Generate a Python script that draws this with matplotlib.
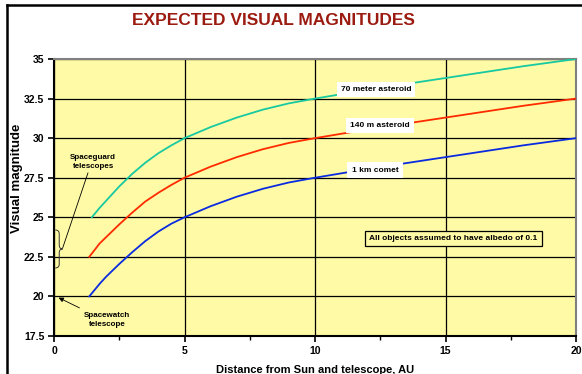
import matplotlib.pyplot as plt
from matplotlib.lines import Line2D
from matplotlib.patches import PathPatch
from matplotlib.path import Path
from matplotlib.ticker import MultipleLocator

plt.rcParams['font.family'] = ['Liberation Sans', 'DejaVu Sans']

# distance (AU) and visual magnitude
dist_70m = [1.45, 1.75, 2, 2.5, 3, 3.5, 4, 4.5, 5, 6, 7, 8, 9, 10, 12, 14, 16, 18, 20]
mag_70m = [25.0, 25.6, 26.05, 26.95, 27.75, 28.45, 29.05, 29.55, 30.0, 30.7, 31.3, 31.8,
           32.2, 32.5, 33.05, 33.55, 34.05, 34.55, 35.0]

dist_140m = [1.35, 1.75, 2, 2.5, 3, 3.5, 4, 4.5, 5, 6, 7, 8, 9, 10, 12, 14, 16, 18, 20]
mag_140m = [22.5, 23.35, 23.75, 24.55, 25.3, 26.0, 26.55, 27.05, 27.5, 28.2, 28.8, 29.3,
            29.7, 30.0, 30.55, 31.05, 31.55, 32.05, 32.5]

dist_1km = [1.35, 1.75, 2, 2.5, 3, 3.5, 4, 4.5, 5, 6, 7, 8, 9, 10, 12, 14, 16, 18, 20]
mag_1km = [20.0, 20.8, 21.25, 22.05, 22.8, 23.5, 24.1, 24.6, 25.0, 25.7, 26.3, 26.8,
           27.2, 27.5, 28.05, 28.55, 29.05, 29.55, 30.0]

y_ticks = [17.5, 20, 22.5, 25, 27.5, 30, 32.5, 35]
y_labels = ['17.5', '20', '22.5', '25', '27.5', '30', '32.5', '35']
x_ticks = [0, 5, 10, 15, 20]

fig = plt.figure(figsize=(5.82, 3.74), dpi=100)
ax = fig.add_axes([0.0928, 0.1016, 0.8969, 0.7406])
ax.set_facecolor('#FFFAA6')

ax.plot(dist_70m, mag_70m, color='#17C9A0', lw=1.3, zorder=3)
ax.plot(dist_140m, mag_140m, color='#FF2A00', lw=1.3, zorder=3)
ax.plot(dist_1km, mag_1km, color='#0A2BE0', lw=1.3, zorder=3)

ax.set_xlim(0, 20)
ax.set_ylim(17.5, 35)
ax.set_xticks(x_ticks)
ax.xaxis.set_minor_locator(MultipleLocator(2.5))
ax.set_yticks(y_ticks)
ax.set_yticklabels(y_labels)
ax.grid(True, which='major', color='black', lw=0.9)
ax.set_axisbelow(True)
ax.tick_params(which='major', direction='out', length=4, width=1.2, labelsize=7.5, pad=3)
ax.tick_params(which='minor', direction='out', length=3, width=1)
for lab in ax.get_xticklabels() + ax.get_yticklabels():
    lab.set_fontweight('bold')

for side in ['left', 'bottom']:
    ax.spines[side].set_linewidth(1.5)
    ax.spines[side].set_color('black')
for side in ['top', 'right']:
    ax.spines[side].set_linewidth(1.5)
    ax.spines[side].set_color('#808080')

ax.set_xlabel('Distance from Sun and telescope, AU', fontsize=8, fontweight='bold', labelpad=7)
ax.set_ylabel('Visual magnitude', fontsize=9.5, fontweight='bold')
ax.yaxis.set_label_coords(-0.06, 0.57)

# curve labels
box = dict(facecolor='white', edgecolor='none', pad=3)
ax.text(12.34, 33.07, '70 meter asteroid', fontsize=6, fontweight='bold', ha='center', va='center', bbox=box, zorder=4)
ax.text(12.49, 30.8, '140 m asteroid', fontsize=6, fontweight='bold', ha='center', va='center', bbox=box, zorder=4)
ax.text(12.3, 27.98, '1 km comet', fontsize=6, fontweight='bold', ha='center', va='center', bbox=box, zorder=4)

ax.text(15.3, 23.65, 'All objects assumed to have albedo of 0.1', fontsize=6, fontweight='bold',
        ha='center', va='center', zorder=4,
        bbox=dict(facecolor='#FFFAA6', edgecolor='black', lw=0.9, pad=3))

# telescope annotations
ax.text(1.5, 28.5, 'Spaceguard\ntelescopes', fontsize=5.8, fontweight='bold', ha='center', va='center',
        linespacing=1.4, zorder=4)
ax.plot([1.3, 0.33], [27.8, 23.05], color='black', lw=0.6, zorder=4)

brace = Path(
    [(0.05, 24.2), (0.2, 24.2), (0.2, 23.95), (0.2, 23.25), (0.2, 23.0), (0.33, 23.0),
     (0.2, 23.0), (0.2, 22.75), (0.2, 22.05), (0.2, 21.8), (0.05, 21.8)],
    [Path.MOVETO, Path.CURVE3, Path.CURVE3, Path.LINETO, Path.CURVE3, Path.CURVE3,
     Path.CURVE3, Path.CURVE3, Path.LINETO, Path.CURVE3, Path.CURVE3])
ax.add_patch(PathPatch(brace, facecolor='none', edgecolor='#333333', lw=0.7, zorder=4))

ax.text(2.03, 18.5, 'Spacewatch\ntelescope', fontsize=5.8, fontweight='bold', ha='center', va='center',
        linespacing=1.4, zorder=4)
ax.annotate('', xy=(0.08, 20.0), xytext=(1.07, 19.2),
            arrowprops=dict(arrowstyle='-|>', color='black', lw=0.6, mutation_scale=7), zorder=4)

fig.text(0.47, 0.945, 'EXPECTED VISUAL MAGNITUDES', fontsize=12.5, fontweight='bold',
         color='#9B1B10', ha='center', va='center')

# frame around the chart
fig.add_artist(Line2D([7 / 582, 7 / 582], [0, 1 - 5 / 374], color='black', lw=1.8))
fig.add_artist(Line2D([7 / 582, 1], [1 - 5 / 374, 1 - 5 / 374], color='black', lw=1.8))

fig.savefig('out.png', dpi=100)
